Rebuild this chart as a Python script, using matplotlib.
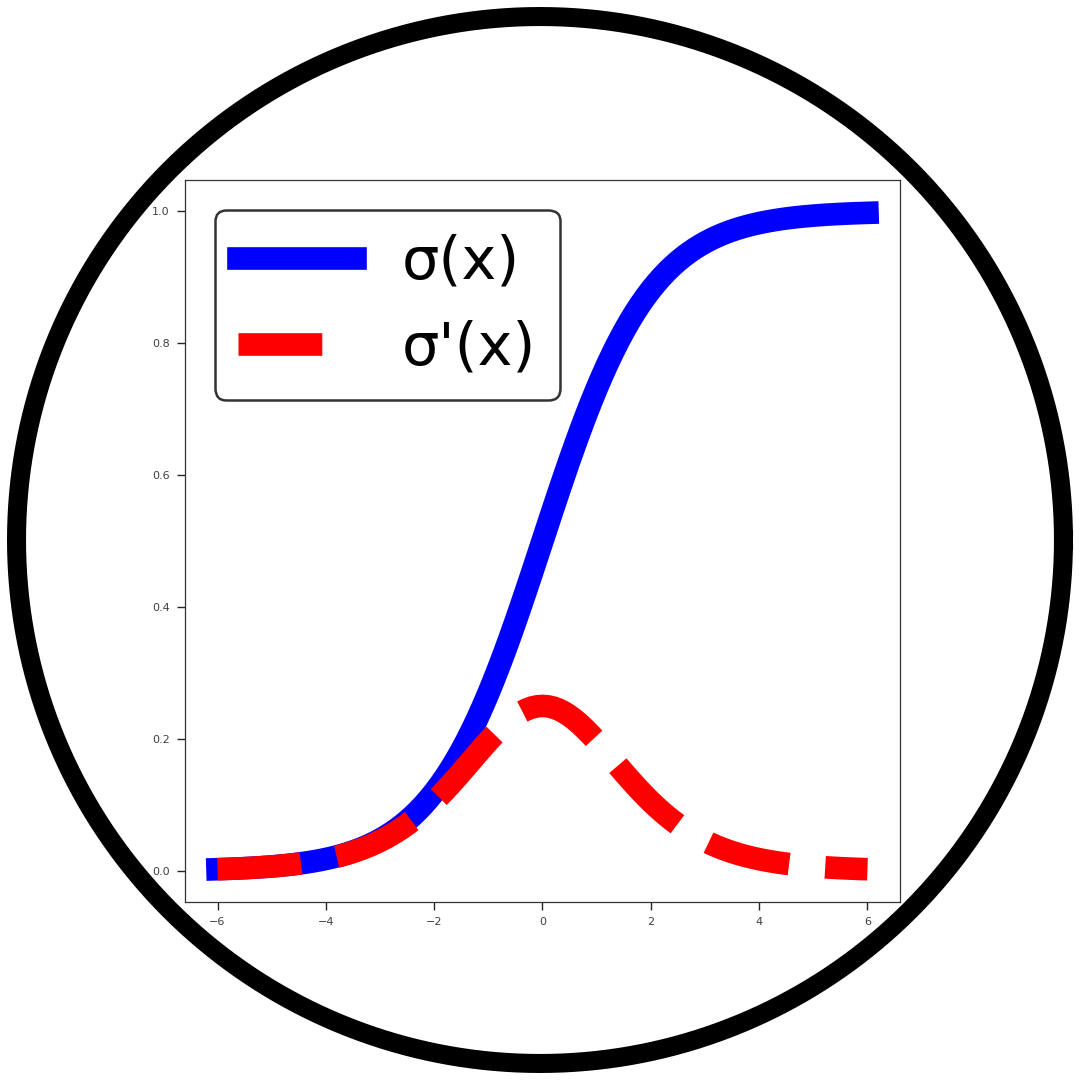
import matplotlib
matplotlib.use("Agg")
import numpy as np
import matplotlib.pyplot as plt
from matplotlib.lines import Line2D

x = [-6.0, -5.9, -5.8, -5.7, -5.6, -5.5, -5.4, -5.3, -5.2, -5.1,
     -5.0, -4.9, -4.8, -4.7, -4.6, -4.5, -4.4, -4.3, -4.2, -4.1,
     -4.0, -3.9, -3.8, -3.7, -3.6, -3.5, -3.4, -3.3, -3.2, -3.1,
     -3.0, -2.9, -2.8, -2.7, -2.6, -2.5, -2.4, -2.3, -2.2, -2.1,
     -2.0, -1.9, -1.8, -1.7, -1.6, -1.5, -1.4, -1.3, -1.2, -1.1,
     -1.0, -0.9, -0.8, -0.7, -0.6, -0.5, -0.4, -0.3, -0.2, -0.1,
     0.0, 0.1, 0.2, 0.3, 0.4, 0.5, 0.6, 0.7, 0.8, 0.9,
     1.0, 1.1, 1.2, 1.3, 1.4, 1.5, 1.6, 1.7, 1.8, 1.9,
     2.0, 2.1, 2.2, 2.3, 2.4, 2.5, 2.6, 2.7, 2.8, 2.9,
     3.0, 3.1, 3.2, 3.3, 3.4, 3.5, 3.6, 3.7, 3.8, 3.9,
     4.0, 4.1, 4.2, 4.3, 4.4, 4.5, 4.6, 4.7, 4.8, 4.9,
     5.0, 5.1, 5.2, 5.3, 5.4, 5.5, 5.6, 5.7, 5.8, 5.9, 6.0]

sigma = [0.00247, 0.00273, 0.00302, 0.00333, 0.00368, 0.00407, 0.00450, 0.00497, 0.00549, 0.00606,
         0.00669, 0.00739, 0.00816, 0.00901, 0.00995, 0.01099, 0.01213, 0.01339, 0.01478, 0.01630,
         0.01799, 0.01984, 0.02188, 0.02413, 0.02660, 0.02931, 0.03230, 0.03557, 0.03917, 0.04311,
         0.04743, 0.05215, 0.05733, 0.06297, 0.06914, 0.07586, 0.08317, 0.09112, 0.09975, 0.10910,
         0.11920, 0.13011, 0.14185, 0.15447, 0.16798, 0.18243, 0.19782, 0.21417, 0.23148, 0.24974,
         0.26894, 0.28905, 0.31003, 0.33181, 0.35434, 0.37754, 0.40131, 0.42556, 0.45017, 0.47502,
         0.50000, 0.52498, 0.54983, 0.57444, 0.59869, 0.62246, 0.64566, 0.66819, 0.68997, 0.71095,
         0.73106, 0.75026, 0.76852, 0.78583, 0.80218, 0.81757, 0.83202, 0.84553, 0.85815, 0.86989,
         0.88080, 0.89090, 0.90025, 0.90888, 0.91683, 0.92414, 0.93086, 0.93703, 0.94267, 0.94785,
         0.95257, 0.95689, 0.96083, 0.96443, 0.96770, 0.97069, 0.97340, 0.97587, 0.97812, 0.98016,
         0.98201, 0.98370, 0.98522, 0.98661, 0.98787, 0.98901, 0.99005, 0.99099, 0.99184, 0.99261,
         0.99331, 0.99394, 0.99451, 0.99503, 0.99550, 0.99593, 0.99632, 0.99667, 0.99698, 0.99727, 0.99753]

dsigma = [0.00247, 0.00272, 0.00301, 0.00332, 0.00367, 0.00405, 0.00448, 0.00494, 0.00545, 0.00602,
          0.00665, 0.00733, 0.00809, 0.00893, 0.00985, 0.01086, 0.01198, 0.01321, 0.01456, 0.01603,
          0.01766, 0.01945, 0.02140, 0.02355, 0.02589, 0.02845, 0.03126, 0.03431, 0.03764, 0.04125,
          0.04518, 0.04943, 0.05404, 0.05900, 0.06436, 0.07010, 0.07625, 0.08282, 0.08980, 0.09720,
          0.10499, 0.11318, 0.12173, 0.13061, 0.13976, 0.14914, 0.15869, 0.16830, 0.17790, 0.18737,
          0.19661, 0.20550, 0.21391, 0.22171, 0.22878, 0.23500, 0.24026, 0.24446, 0.24752, 0.24938,
          0.25000, 0.24938, 0.24752, 0.24446, 0.24026, 0.23500, 0.22878, 0.22171, 0.21391, 0.20550,
          0.19661, 0.18737, 0.17790, 0.16830, 0.15869, 0.14914, 0.13976, 0.13061, 0.12173, 0.11318,
          0.10499, 0.09720, 0.08980, 0.08282, 0.07625, 0.07010, 0.06436, 0.05900, 0.05404, 0.04943,
          0.04518, 0.04125, 0.03764, 0.03431, 0.03126, 0.02845, 0.02589, 0.02355, 0.02140, 0.01945,
          0.01766, 0.01603, 0.01456, 0.01321, 0.01198, 0.01086, 0.00985, 0.00893, 0.00809, 0.00733,
          0.00665, 0.00602, 0.00545, 0.00494, 0.00448, 0.00405, 0.00367, 0.00332, 0.00301, 0.00272, 0.00247]

labels = ["σ(x)", "σ'(x)"]
xticks = [-6, -4, -2, 0, 2, 4, 6]
yticks = [0.0, 0.2, 0.4, 0.6, 0.8, 1.0]

fig = plt.figure(figsize=(10.8, 10.8), dpi=100)
fig.patch.set_facecolor("white")

# circular frame (decoration, drawn smoothly in figure coordinates)
t = np.linspace(0, 2 * np.pi, 1441)
r = 0.4847
ring = Line2D(0.5 + r * np.cos(t), 0.5 + r * np.sin(t), transform=fig.transFigure,
              color="black", linewidth=13.7, solid_joinstyle="round", zorder=0)
fig.add_artist(ring)

ax = fig.add_axes([0.1713, 0.1648, 0.662, 0.6685])
ax.plot(x, sigma, color="blue", linewidth=16.3, solid_capstyle="projecting",
        solid_joinstyle="round", label=labels[0])
ax.plot(x, dsigma, color="red", linewidth=16.3, linestyle="--",
        dash_capstyle="butt", dash_joinstyle="round", label=labels[1])

for sp in ax.spines.values():
    sp.set_color("0.2")
    sp.set_linewidth(0.9)

ax.tick_params(axis="both", which="major", labelsize=8, length=6, width=1,
               color="0.15", labelcolor="0.25", pad=5,
               top=False, right=False)
ax.set_xticks(xticks)
ax.set_yticks(yticks)

leg = ax.legend(loc="upper left", fontsize=42.5, handlelength=1.98, frameon=True,
                fancybox=True, framealpha=1.0)
leg.get_frame().set_edgecolor("0.2")
leg.get_frame().set_linewidth(1.8)

fig.savefig("out.png", dpi=100, facecolor="white")
